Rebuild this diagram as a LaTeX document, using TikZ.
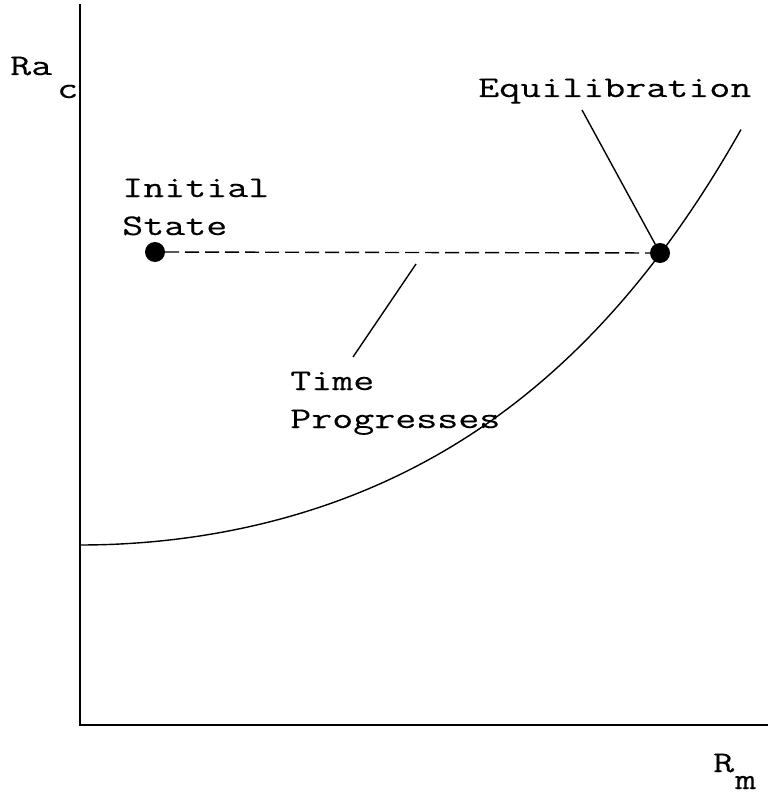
\documentclass[tikz,border=0pt]{standalone}
\usepackage{fontspec}
\newfontfamily\lbl[FakeStretch=1.36,FakeBold=0.2]{Latin Modern Mono}
\begin{document}
\begin{tikzpicture}[x=1pt,y=-1pt,
  txt/.style={inner sep=0pt,anchor=base west,font=\lbl\fontsize{30}{38}\selectfont},
  axis/.style={line width=2pt},
  thin line/.style={line width=1.4pt},
  dotnode/.style={circle,fill=black,inner sep=0pt,minimum size=20pt}]
\useasboundingbox (0,0) rectangle (768,797);
% axes
\coordinate (ytop) at (80,4);
\coordinate (orig) at (80,725);
\coordinate (xend) at (768,725);
\draw[axis] (ytop) -- (orig) -- (xend);
% curve
\draw[thin line] plot[domain=80:741,samples=120] (\x,{545-101.7*(cosh(0.0035*(\x-80))-1)});
% dots
\node[dotnode] (init) at (155,252) {};
\node[dotnode] (equil) at (660,253) {};
\draw[thin line,dash pattern=on 14pt off 6pt] (init) -- (equil);
% labels
\node[txt] (ra) at (10,75) {Ra};
\node[txt] (rac) at (57,98) {c};
\node[txt] (rm) at (713,772) {R};
\node[txt] (rmm) at (735,789) {m};
\node[txt] (initial) at (122,197) {Initial};
\node[txt] (state) at (122,235) {State};
\node[txt] (eqlabel) at (478,97) {Equilibration};
\node[txt] (time) at (290,390) {Time};
\node[txt] (prog) at (290,428) {Progresses};
% leaders
\coordinate (eqtail) at (582,110);
\draw[thin line] (eqtail) -- (equil.center);
\coordinate (tpa) at (416,264);
\coordinate (tpb) at (353,357);
\draw[thin line] (tpa) -- (tpb);
\end{tikzpicture}
\end{document}
